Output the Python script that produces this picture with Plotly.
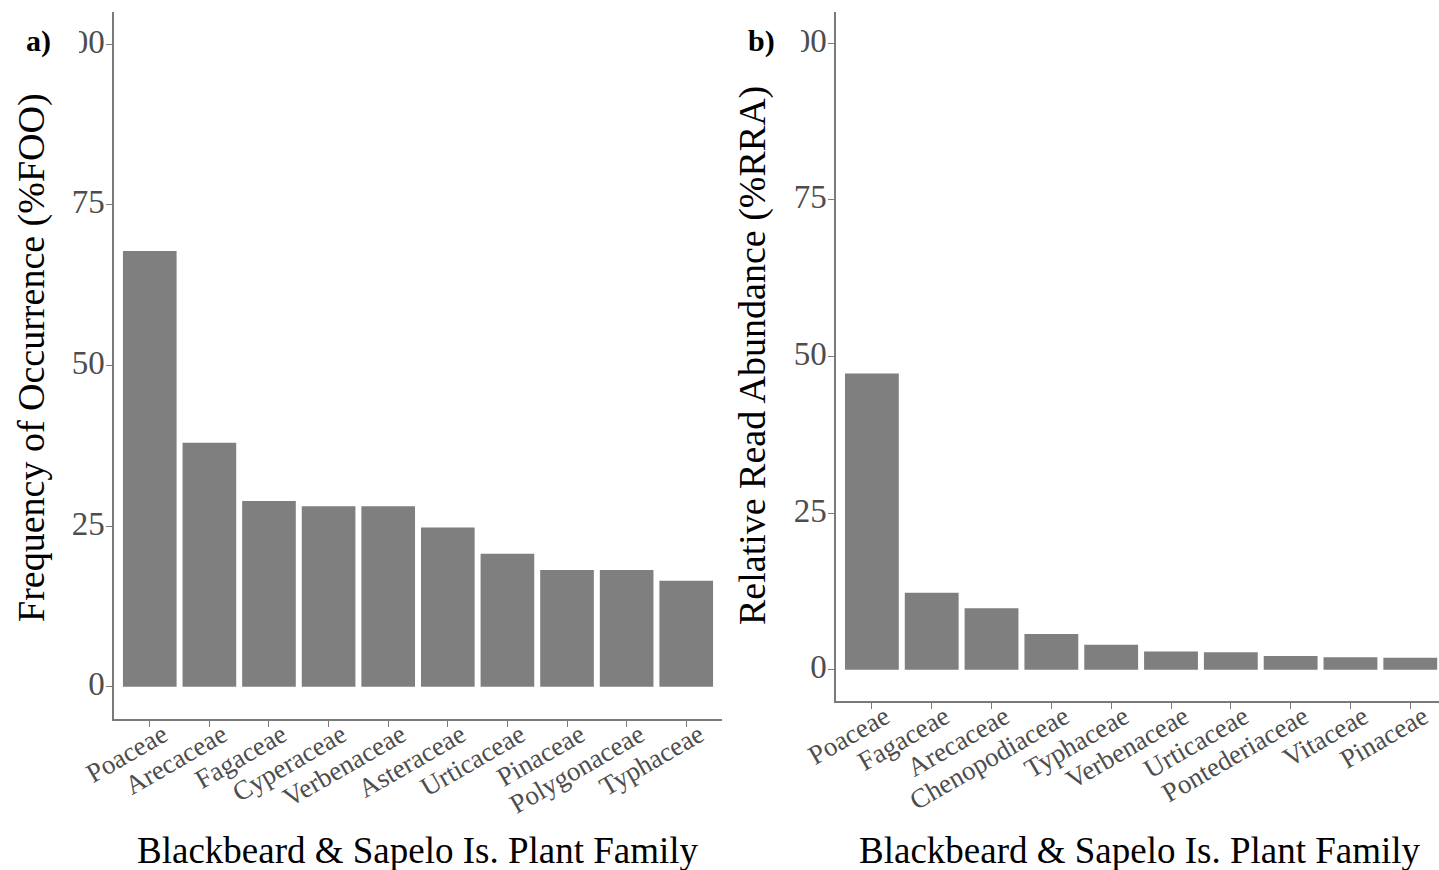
import plotly.graph_objects as go

# Frequency of occurrence (%FOO) per plant family
foo_families = ["Poaceae", "Arecaceae", "Fagaceae", "Cyperaceae", "Verbenaceae",
                "Asteraceae", "Urticaceae", "Pinaceae", "Polygonaceae", "Typhaceae"]
foo_values = [67.8, 38.0, 28.9, 28.1, 28.1, 24.8, 20.7, 18.2, 18.2, 16.5]

# Relative read abundance (%RRA) per plant family
rra_families = ["Poaceae", "Fagaceae", "Arecaceae", "Chenopodiaceae", "Typhaceae",
                "Verbenaceae", "Urticaceae", "Pontederiaceae", "Vitaceae", "Pinaceae"]
rra_values = [47.3, 12.3, 9.8, 5.7, 4.0, 2.9, 2.8, 2.2, 2.0, 1.9]

y_ticks = [0, 25, 50, 75, 100]

W, H = 1439, 870
FONT = "Liberation Serif"
BAR = "#7f7f7f"
AXIS = "#7a7a7a"
TICKTXT = "#4d4d4d"


def px_x(v):
    return v / W


def px_y(v):
    return 1 - v / H


fig = go.Figure()
fig.add_trace(go.Bar(x=foo_families, y=foo_values, width=0.9, marker_color=BAR,
                     marker_line_width=0, xaxis="x", yaxis="y", showlegend=False))
fig.add_trace(go.Bar(x=rra_families, y=rra_values, width=0.9, marker_color=BAR,
                     marker_line_width=0, xaxis="x2", yaxis="y2", showlegend=False))

xcommon = dict(showline=True, linecolor=AXIS, linewidth=1.5, ticks="outside",
               ticklen=6, tickcolor=AXIS, tickwidth=1.2, tickangle=-30,
               ticklabelstandoff=-18, ticklabelshift=13,
               tickfont=dict(family=FONT, size=27, color=TICKTXT),
               showgrid=False, zeroline=False, fixedrange=True, automargin=False)
ycommon = dict(showline=True, linecolor=AXIS, linewidth=1.5, ticks="outside",
               ticklen=6, tickcolor=AXIS, tickwidth=1.2,
               ticklabelstandoff=-5, ticklabelshift=-3,
               tickvals=y_ticks, ticktext=[str(t) for t in y_ticks],
               tickfont=dict(family=FONT, size=33, color=TICKTXT),
               showgrid=False, zeroline=False, range=[-5, 105], fixedrange=True,
               automargin=False)

fig.update_layout(
    width=W, height=H,
    margin=dict(l=0, r=0, t=0, b=0),
    paper_bgcolor="white", plot_bgcolor="white",
    xaxis=dict(domain=[px_x(114), px_x(722)], range=[-0.6, 9.6], anchor="y",
               categoryorder="array", categoryarray=foo_families, **xcommon),
    yaxis=dict(domain=[px_y(719), px_y(12)], anchor="x", **ycommon),
    xaxis2=dict(domain=[px_x(836), 1.0], range=[-0.6, 9.48], anchor="y2",
                categoryorder="array", categoryarray=rra_families, **xcommon),
    yaxis2=dict(domain=[px_y(701), px_y(12)], anchor="x2", **ycommon),
)

# The leading digit of the top tick label is trimmed at the panel edge
fig.add_shape(type="rect", xref="paper", yref="paper", layer="above",
              x0=px_x(54), x1=px_x(79), y0=px_y(66), y1=px_y(22),
              fillcolor="white", line_width=0)
fig.add_shape(type="rect", xref="paper", yref="paper", layer="above",
              x0=px_x(778), x1=px_x(801), y0=px_y(66), y1=px_y(22),
              fillcolor="white", line_width=0)

ytitle_font = dict(family=FONT, size=38, color="black")
xtitle_font = dict(family=FONT, size=37, color="black")
annotations = [
    dict(text="Frequency of Occurrence (%FOO)", x=px_x(31), y=px_y(358),
         textangle=-90, font=ytitle_font),
    dict(text="Relative Read Abundance (%RRA)", x=px_x(752), y=px_y(356),
         textangle=-90, font=ytitle_font),
    dict(text="Blackbeard & Sapelo Is. Plant Family", x=px_x(418), y=px_y(850),
         font=xtitle_font),
    dict(text="Blackbeard & Sapelo Is. Plant Family", x=px_x(1140), y=px_y(850),
         font=xtitle_font),
    dict(text="<b>a)</b>", x=px_x(38), y=px_y(41), font=dict(family=FONT, size=30, color="black")),
    dict(text="<b>b)</b>", x=px_x(761), y=px_y(41), font=dict(family=FONT, size=30, color="black")),
]
for a in annotations:
    a.update(xref="paper", yref="paper", showarrow=False, xanchor="center", yanchor="middle")
fig.update_layout(annotations=annotations)

fig.write_html("out.html")
